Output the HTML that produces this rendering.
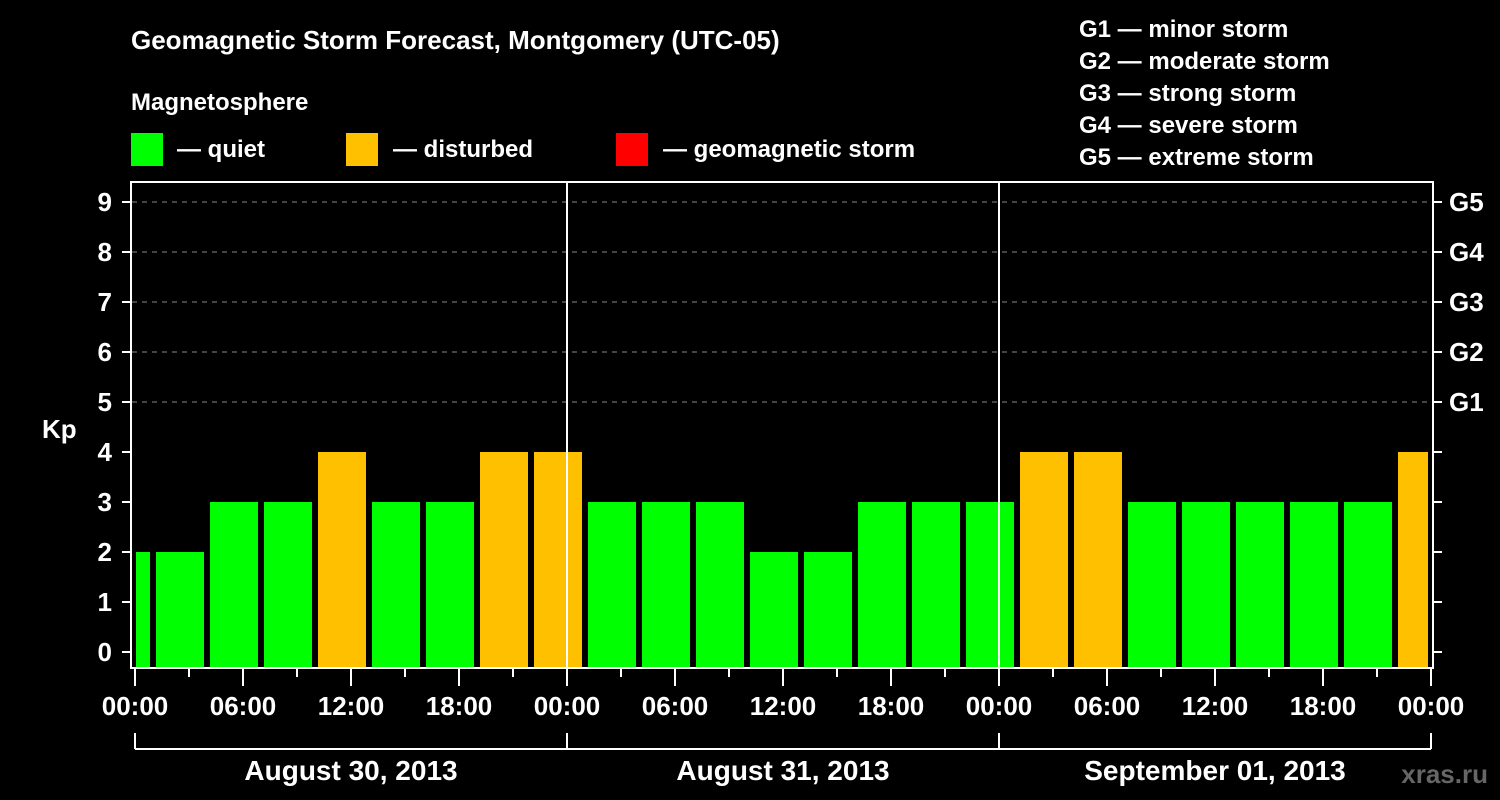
<!DOCTYPE html>
<html><head><meta charset="utf-8"><style>
body{margin:0;background:#000;width:1500px;height:800px;overflow:hidden}
svg{display:block;font-family:"Liberation Sans",sans-serif;font-weight:bold}
</style></head><body>
<svg id="c" width="1500" height="800">
<text x="131" y="49" fill="#fff" font-size="26">Geomagnetic Storm Forecast, Montgomery (UTC-05)</text>
<text x="131" y="110" fill="#fff" font-size="24">Magnetosphere</text>
<rect x="131" y="133" width="32" height="33" fill="#00ff00"/>
<text x="177" y="157" fill="#fff" font-size="24">— quiet</text>
<rect x="346" y="133" width="32" height="33" fill="#ffc000"/>
<text x="393" y="157" fill="#fff" font-size="24">— disturbed</text>
<rect x="616" y="133" width="32" height="33" fill="#ff0000"/>
<text x="663" y="157" fill="#fff" font-size="24">— geomagnetic storm</text>
<g fill="#fff" font-size="24">
<text x="1079" y="37">G1 — minor storm</text>
<text x="1079" y="69">G2 — moderate storm</text>
<text x="1079" y="101">G3 — strong storm</text>
<text x="1079" y="133">G4 — severe storm</text>
<text x="1079" y="165">G5 — extreme storm</text>
</g>
<text x="42" y="438" fill="#fff" font-size="26">Kp</text>
<text x="1488" y="783" fill="#666" font-size="26" text-anchor="end">xras.ru</text>
<g id="plot"></g>
</svg>
<script>
const kpValues=[2,2,3,3,4,3,3,4,4,3,3,3,2,2,3,3,3,4,4,3,3,3,3,3,4];
const startHour=-2;
const yTicks=[0,1,2,3,4,5,6,7,8,9];
const gLabels=["G1","G2","G3","G4","G5"];
const timeLabels=["00:00","06:00","12:00","18:00","00:00","06:00","12:00","18:00","00:00","06:00","12:00","18:00","00:00"];
const dateLabels=["August 30, 2013","August 31, 2013","September 01, 2013"];
const NS="http://www.w3.org/2000/svg";
const X=h=>135+18*h, Y=k=>652-50*k;
const g=document.getElementById('plot');
function mk(t,a,p){const e=document.createElementNS(NS,t);for(const k in a)e.setAttribute(k,a[k]);(p||g).appendChild(e);return e;}
// gridlines
yTicks.forEach(k=>{if(k>=5){const l=mk('line',{x1:132,x2:1432,y1:Y(k),y2:Y(k),stroke:'#888','stroke-dasharray':'5,5','stroke-width':1});

}});
// bars
kpValues.forEach((v,i)=>{const h0=startHour+3*i,h1=h0+3;
let x0=Math.max(X(h0)+3,X(0)+1),x1=Math.min(X(h1)-3,X(72)-3);if(x1<=x0)return;
const r=mk('rect',{x:x0,y:Y(v),width:x1-x0,height:667-Y(v),fill:v>=5?'#ff0000':v>=4?'#ffc000':'#00ff00'});

});
// day separators
[24,48].forEach(h=>{const l=mk('line',{x1:X(h),x2:X(h),y1:182,y2:668,stroke:'#fff','stroke-width':2});

});
// box
const b=mk('rect',{x:131,y:182,width:1302,height:486,fill:'none',stroke:'#fff','stroke-width':2});


// y ticks
yTicks.forEach(k=>{mk('line',{x1:122,x2:131,y1:Y(k),y2:Y(k),stroke:'#fff','stroke-width':2});
mk('line',{x1:1433,x2:1442,y1:Y(k),y2:Y(k),stroke:'#fff','stroke-width':2});
const t=mk('text',{x:112,y:Y(k)+9,fill:'#fff','font-size':26,'text-anchor':'end'});t.textContent=k;

});
gLabels.forEach((s,i)=>{const t=mk('text',{x:1449,y:Y(5+i)+9,fill:'#fff','font-size':26});t.textContent=s;

});
// x ticks
for(let h=0;h<=72;h+=3){const maj=h%6==0;mk('line',{x1:X(h),x2:X(h),y1:668,y2:maj?686:677,stroke:'#fff','stroke-width':2});}
timeLabels.forEach((s,i)=>{const t=mk('text',{x:X(6*i),y:715,fill:'#fff','font-size':26,'text-anchor':'middle'});t.textContent=s;

});
// date bracket
mk('line',{x1:X(0),x2:X(72),y1:749,y2:749,stroke:'#fff','stroke-width':2});
[0,24,48,72].forEach(h=>mk('line',{x1:X(h),x2:X(h),y1:733,y2:749,stroke:'#fff','stroke-width':2}));
dateLabels.forEach((s,i)=>{const t=mk('text',{x:X(24*i+12),y:780,fill:'#fff','font-size':28,'text-anchor':'middle'});t.textContent=s;

});
</script>
</body></html>
